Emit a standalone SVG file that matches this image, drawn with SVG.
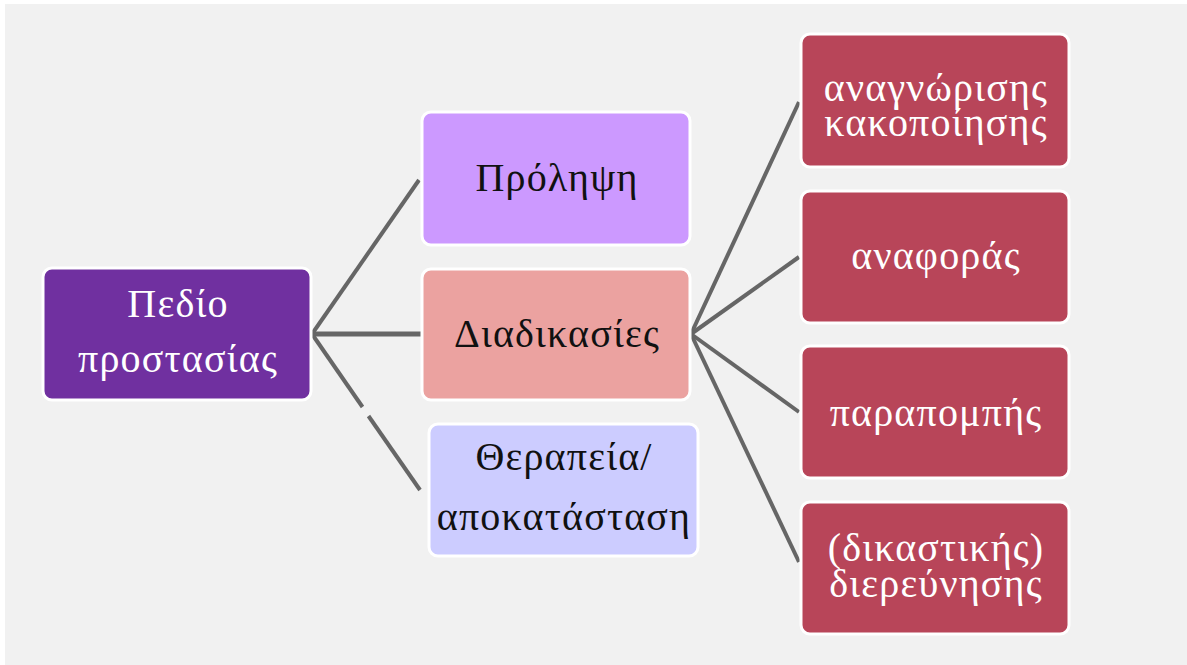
<svg xmlns="http://www.w3.org/2000/svg" width="1187" height="665" viewBox="0 0 1187 665">
  <style>
    .box { stroke: #ffffff; stroke-width: 3; }
    .conn { stroke: #666666; stroke-width: 4; fill: none; stroke-linecap: butt; }
    .t { font-family: "Liberation Serif", "DejaVu Serif", serif; font-size: 40px; letter-spacing: 1.2px; text-anchor: middle; }
    .w { fill: #ffffff; }
    .k { fill: #111111; }
  </style>
  <rect x="0" y="0" width="1187" height="665" fill="#ffffff"/>
  <rect x="5" y="4" width="1182" height="661" fill="#f1f1f1"/>

  <g id="connectors">
    <line class="conn" x1="312" y1="334" x2="419" y2="180"/>
    <line class="conn" x1="312" y1="334" x2="421" y2="334" style="stroke-width:5"/>
    <line class="conn" x1="312" y1="334" x2="362.5" y2="407"/>
    <line class="conn" x1="368.5" y1="416" x2="420" y2="490"/>
    <line class="conn" x1="691" y1="334" x2="799" y2="102"/>
    <line class="conn" x1="691" y1="334" x2="799" y2="257"/>
    <line class="conn" x1="691" y1="334" x2="799" y2="412"/>
    <line class="conn" x1="691" y1="334" x2="799" y2="562"/>
  </g>

  <g id="root">
    <rect class="box" x="43" y="268" width="268" height="132" rx="9" fill="#7030a0"/>
    <text class="t w" x="178" y="317">Πεδίο</text>
    <text class="t w" x="178" y="372">προστασίας</text>
  </g>

  <g id="prolipsi">
    <rect class="box" x="422" y="112" width="268" height="133" rx="9" fill="#cc99ff"/>
    <text class="t k" x="557" y="191">Πρόληψη</text>
  </g>

  <g id="diadikasies">
    <rect class="box" x="422" y="269" width="268" height="131" rx="9" fill="#eba2a0"/>
    <text class="t k" x="557" y="347">Διαδικασίες</text>
  </g>

  <g id="therapeia">
    <rect class="box" x="429" y="424" width="269" height="132" rx="9" fill="#ccccff"/>
    <text class="t k" x="564" y="470">Θεραπεία/</text>
    <text class="t k" x="564" y="530">αποκατάσταση</text>
  </g>

  <g id="anagnorisi">
    <rect class="box" x="801" y="34" width="268" height="133" rx="9" fill="#b84559"/>
    <text class="t w" x="936" y="101">αναγνώρισης</text>
    <text class="t w" x="936" y="136">κακοποίησης</text>
  </g>

  <g id="anafora">
    <rect class="box" x="801" y="191" width="268" height="132" rx="9" fill="#b84559"/>
    <text class="t w" x="936" y="269">αναφοράς</text>
  </g>

  <g id="parapompi">
    <rect class="box" x="801" y="346" width="268" height="132" rx="9" fill="#b84559"/>
    <text class="t w" x="936" y="426">παραπομπής</text>
  </g>

  <g id="dierevnisi">
    <rect class="box" x="801" y="502" width="268" height="132" rx="9" fill="#b84559"/>
    <text class="t w" x="936" y="561">(δικαστικής)</text>
    <text class="t w" x="936" y="597">διερεύνησης</text>
  </g>
</svg>
